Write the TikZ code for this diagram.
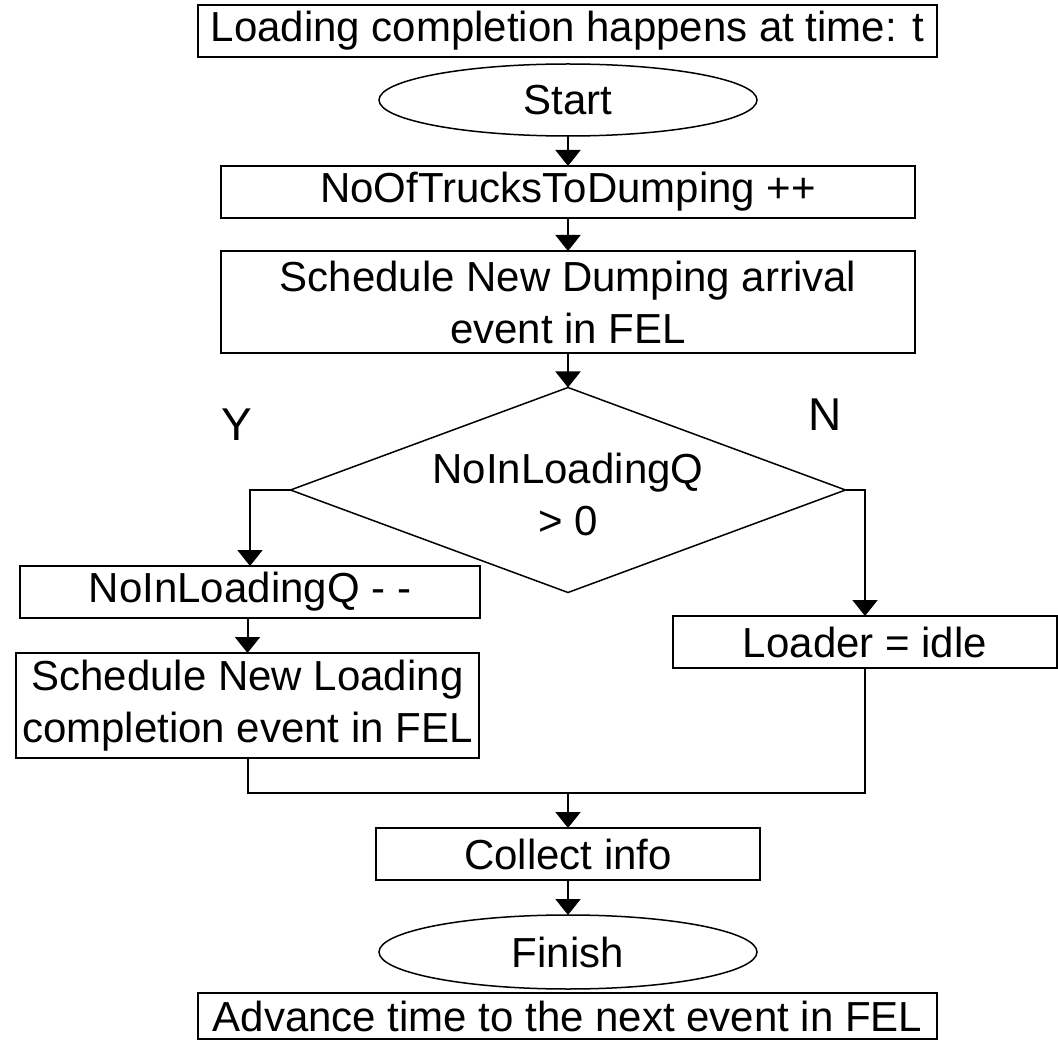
\documentclass[tikz,border=0pt]{standalone}
\usepackage{fontspec}
\setmainfont{Liberation Sans}
\usetikzlibrary{shapes.geometric,arrows.meta}
\begin{document}
\begin{tikzpicture}[x=1pt,y=-1pt,
  every node/.style={font=\fontsize{42}{52}\selectfont, inner sep=0pt, outer sep=0pt},
  box/.style={draw, line width=1.5pt, rectangle, align=center},
  term/.style={draw, line width=1.5pt, ellipse},
  dec/.style={draw, line width=1.5pt, diamond, shape aspect=2.7},
  arr/.style={line width=2pt, -{Triangle[width=25pt,length=16pt]}},
  ln/.style={line width=2pt}]
\useasboundingbox (0,0) rectangle (1058,1040);
\node[box, minimum width=739pt, minimum height=52pt] (top) at (567.5,31) {Loading completion happens at time: t};
\node[term, minimum width=378pt, minimum height=72pt] (start) at (568,100) {Start};
\node[box, minimum width=694pt, minimum height=52pt] (inc) at (568,192) {NoOfTrucksToDumping ++};
\node[box, minimum width=694pt, minimum height=102pt] (sched) at (568,302) {Schedule New Dumping arrival\\event in FEL};
\node[dec, minimum width=555pt, minimum height=205pt] (cond) at (568,490) {};
\node[align=center] (condtxt) at (568,494) {NoInLoadingQ\\> 0};
\node (ylab) at (237,425) {\fontsize{46}{52}\selectfont Y};
\node (nlab) at (825,415) {\fontsize{46}{52}\selectfont N};
\node[box, minimum width=460pt, minimum height=52pt] (dec1) at (250,592) {NoInLoadingQ - -};
\node[box, minimum width=463pt, minimum height=105pt] (sched2) at (247.5,705.5) {Schedule New Loading\\completion event in FEL};
\node[box, minimum width=384pt, minimum height=52pt] (idle) at (865,642) {Loader = idle};
\node[box, minimum width=384pt, minimum height=52pt] (collect) at (568,854) {Collect info};
\node[term, minimum width=378pt, minimum height=74pt] (finish) at (568,952) {Finish};
\node[box, minimum width=739pt, minimum height=46pt] (adv) at (567.5,1016) {Advance time to the next event in FEL};
\coordinate (join) at (568,793);
\draw[arr] (start) -- (inc);
\draw[arr] (inc) -- (sched);
\draw[arr] (sched) -- (cond.north);
\draw[arr] (cond.west) -| (dec1.north);
\draw[arr] (cond.east) -| (idle.north);
\draw[arr] (dec1.south -| sched2.north) -- (sched2.north);
\draw[ln] (sched2.south) |- (join);
\draw[ln] (idle.south) |- (join);
\draw[arr] (join) -- (collect.north);
\draw[arr] (collect) -- (finish);
\end{tikzpicture}
\end{document}
